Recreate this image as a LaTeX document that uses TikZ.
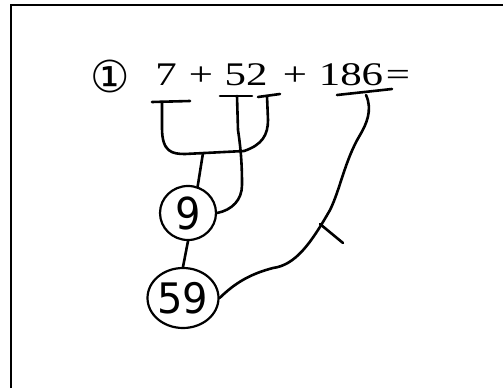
\documentclass[tikz,border=0pt]{standalone}
\usepackage{fontspec}
\setmainfont{Liberation Serif}
\newfontfamily\symfont{DejaVu Sans}
\newfontfamily\handfont{DejaVu Sans}
\usetikzlibrary{shapes.geometric}
\tikzset{
  eq/.style={font=\fontsize{33}{33}\selectfont, inner sep=0pt, anchor=base, xscale=1.3, transform shape},
  stroke/.style={line width=2.6pt, line cap=round, line join=round},
  bubble/.style={draw, ellipse, line width=2.2pt, inner sep=0pt},
  hand/.style={font=\handfont\fontsize{40}{40}\selectfont},
  frame/.style={line width=1.2pt}
}
\begin{document}
\begin{tikzpicture}[x=1pt,y=-1pt]
\useasboundingbox (0,0) rectangle (503,388);
% frame (top and left edges only)
\coordinate (f1) at (11,388);
\coordinate (f2) at (11,5);
\coordinate (f3) at (503,5);
\draw[frame] (f1) -- (f2) -- (f3);
% equation
\node[font=\symfont\fontsize{44}{44}\selectfont, inner sep=0pt, anchor=center] (c1) at (110,76) {①};
\node[eq] (t7) at (166,85) {7};
\node[eq] (p1) at (201,85) {+};
\node[eq] (t52) at (246,85) {52};
\node[eq] (p2) at (295,85) {+};
\node[eq] (t186) at (351,85) {186};
\node[eq] (eqs) at (398,85) {=};
% bubbles
\node[bubble, minimum width=56pt, minimum height=54pt] (n9) at (188,213) {};
\node[hand, yscale=1.1] at (n9.center) {9};
\node[bubble, minimum width=71pt, minimum height=60pt] (n59) at (183,298) {};
\node[hand, yscale=1.05] at (n59.center) {59};
% underline strokes
\coordinate (u7a) at (152,102); \coordinate (u7b) at (190,101);
\coordinate (u52a) at (220,96); \coordinate (u52b) at (252,96);
\coordinate (u2a) at (258,97); \coordinate (u2b) at (280,94);
\coordinate (u186a) at (337,95); \coordinate (u186b) at (392,89);
\draw[stroke] (u7a) -- (u7b);
\draw[stroke] (u52a) -- (u52b);
\draw[stroke] (u2a) -- (u2b);
\draw[stroke] (u186a) -- (u186b);
% bracket joining 7 and 2
\coordinate (s7) at (162,102);
\coordinate (s2) at (267,96);
\coordinate (mid) at (203,153);
\draw[stroke] (s7) -- (162,128) .. controls (162,152) and (172,154) .. (185,154)
  -- (244,151) .. controls (262,145) and (268,135) .. (268,120) -- (s2);
\draw[stroke] (mid) -- (n9.70);
% from 52 down to 9
\coordinate (s52) at (237,96);
\draw[stroke] (s52) -- (238,130) .. controls (241,150) and (242,165) .. (242,185)
  .. controls (242,200) and (232,210) .. (n9.east);
% 9 to 59
\draw[stroke] (n9.south) -- (n59.north);
% long curve from 186 to 59
\coordinate (s186) at (366,95);
\draw[stroke] (s186) .. controls (373,110) and (366,125) .. (360,135)
  .. controls (345,160) and (340,190) .. (330,210)
  .. controls (310,245) and (295,265) .. (273,268)
  .. controls (250,274) and (235,283) .. (n59.east);
% tick mark
\coordinate (k1) at (320,224); \coordinate (k2) at (343,243);
\draw[stroke] (k1) -- (k2);
\end{tikzpicture}
\end{document}
